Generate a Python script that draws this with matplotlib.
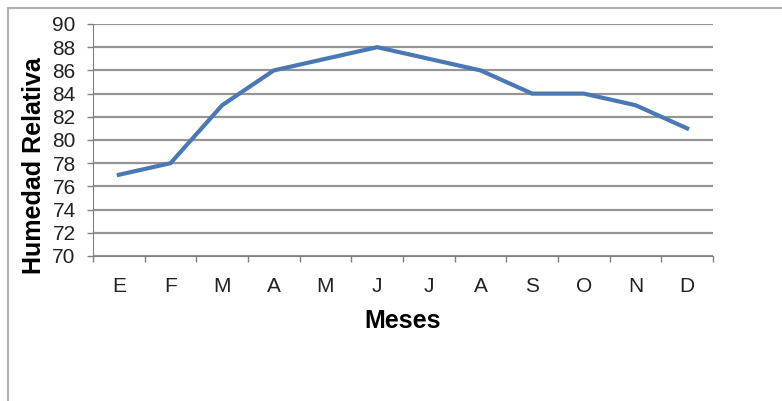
import numpy as np
import matplotlib.pyplot as plt
from matplotlib.patches import Rectangle

plt.rcParams['font.family'] = ['Liberation Sans', 'DejaVu Sans']

# monthly relative humidity
meses = ['E', 'F', 'M', 'A', 'M', 'J', 'J', 'A', 'S', 'O', 'N', 'D']
humedad = [77, 78, 83, 86, 87, 88, 87, 86, 84, 84, 83, 81]
y_ticks = [70, 72, 74, 76, 78, 80, 82, 84, 86, 88, 90]

fig = plt.figure(figsize=(7.82, 4.01), dpi=100)

# chart frame (Excel style border)
fig.patches.append(Rectangle((8 / 782, -0.1), 1.2, 1 - 8 / 401 + 0.1,
                             transform=fig.transFigure, fill=False,
                             edgecolor='#b0b0b0', linewidth=1.5))

ax = fig.add_axes([93 / 782, 1 - 256 / 401, 620 / 782, 232 / 401])

x = np.arange(len(meses))
ax.plot(x, humedad, color='#4a78b4', linewidth=3, solid_joinstyle='round')

ax.set_xlim(-0.5, len(meses) - 0.5)
ax.set_ylim(70, 90)
ax.set_yticks(y_ticks)
ax.set_xticks(x)
ax.set_xticklabels(meses)
ax.set_xticks(np.arange(len(meses) + 1) - 0.5, minor=True)
ax.tick_params(axis='x', which='major', length=0, pad=15, labelsize=15, labelcolor='#222222')
ax.tick_params(axis='x', which='minor', length=4, color='#808080', width=1)
ax.tick_params(axis='y', length=4.5, color='#808080', width=1, pad=8, labelsize=15,
               labelcolor='#222222')

ax.grid(axis='y', color='#959595', linewidth=1.6)
ax.set_axisbelow(True)
for side in ['top', 'right']:
    ax.spines[side].set_visible(False)
ax.spines['left'].set_color('#808080')
ax.spines['bottom'].set_color('#808080')

ax.set_xlabel('Meses', fontsize=18, fontweight='bold', va='center')
ax.xaxis.set_label_coords(0.5, (256 - 321) / 232)
ax.set_ylabel('Humedad Relativa', fontsize=18, fontweight='bold', va='center')
ax.yaxis.set_label_coords((34 - 93) / 620, (256 - 166) / 232)

fig.savefig('out.png', dpi=100)
